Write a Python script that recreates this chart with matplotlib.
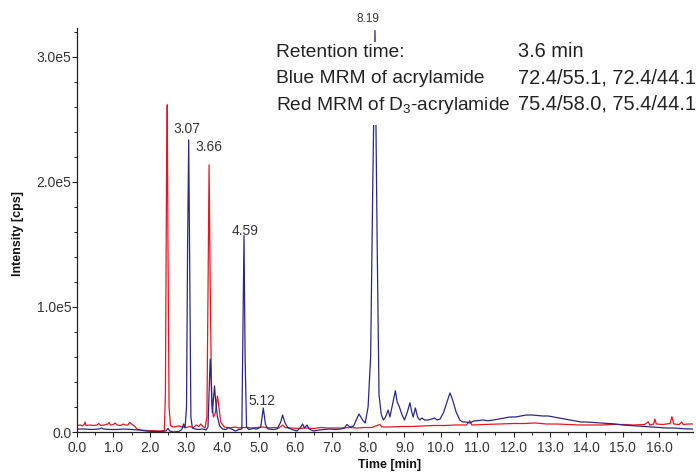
import matplotlib
matplotlib.use("Agg")
import matplotlib.pyplot as plt
from matplotlib.patches import Rectangle
from matplotlib.ticker import MultipleLocator, FuncFormatter

plt.rcParams['font.family'] = ['Liberation Sans', 'DejaVu Sans']
plt.rcParams['mathtext.default'] = 'regular'

# ---- data ----
red_t = [0.00, 0.10, 0.15, 0.20, 0.22, 0.25, 0.35, 0.45, 0.55, 0.60, 0.65, 0.75, 0.85, 0.88, 0.92,
         1.00, 1.05, 1.10, 1.20, 1.28, 1.32, 1.40, 1.45, 1.50, 1.58, 1.65, 1.75, 1.90, 2.10, 2.30,
         2.40, 2.43, 2.46, 2.48, 2.50, 2.53, 2.57, 2.65, 2.80, 2.90, 3.00, 3.10, 3.20, 3.28, 3.35,
         3.40, 3.45, 3.52, 3.57, 3.60, 3.63, 3.66, 3.70, 3.75, 3.80, 3.86, 3.90, 3.95, 4.05, 4.20,
         4.35, 4.45, 4.55, 4.70, 4.80, 4.95, 5.10, 5.25, 5.40, 5.55, 5.65, 5.72, 5.90, 6.10, 6.30,
         6.50, 6.70, 6.90, 7.10, 7.30, 7.50, 7.70, 7.90, 8.10, 8.32, 8.38, 8.60, 8.90, 9.20, 9.50,
         9.80, 10.10, 10.40, 10.70, 10.80, 10.85, 11.20, 11.60, 12.00, 12.30, 12.60, 12.90, 13.20,
         13.50, 13.80, 14.10, 14.40, 14.70, 15.00, 15.30, 15.60, 15.70, 15.74, 15.85, 15.88, 15.92,
         16.10, 16.30, 16.35, 16.40, 16.55, 16.62, 16.66, 16.80, 16.93]
red_i = [5200, 5600, 4800, 6000, 8000, 5200, 5600, 5200, 5600, 6800, 5200, 5600, 6400, 7600, 5600,
         6000, 7200, 5600, 5200, 6400, 5600, 5600, 7600, 6400, 4800, 2400, 1600, 1200, 1000, 800,
         1200, 30000, 200000, 261600, 150000, 20000, 5000, 4000, 4800, 4000, 3600, 4400, 3600, 5600, 4400,
         6400, 4800, 3200, 12000, 110000, 213600, 120000, 25000, 12000, 15000, 28800, 20000, 8000, 4000, 3200,
         4000, 3200, 3600, 3600, 3200, 3600, 4000, 3200, 3600, 3200, 5600, 3600, 3200, 2800, 3200,
         2800, 3600, 3200, 3200, 3200, 3600, 3200, 3600, 3600, 6000, 4000, 4000, 4400, 4400, 4800,
         5200, 5200, 5600, 5600, 9000, 5600, 6000, 6400, 6800, 6800, 7200, 6400, 6400,
         6000, 5600, 5600, 5600, 6000, 6000, 5600, 6000, 8200, 5600, 6400, 10400, 6400,
         6000, 6800, 12200, 6400, 6000, 8000, 6000, 6400, 6400]

blue_t = [0.00, 0.20, 0.40, 0.60, 0.68, 0.72, 0.90, 1.10, 1.30, 1.50, 1.70, 1.90, 2.10, 2.30, 2.45,
          2.50, 2.55, 2.65, 2.80, 2.88, 2.93, 2.97, 3.01, 3.04, 3.07, 3.10, 3.13, 3.17, 3.25, 3.35,
          3.45, 3.55, 3.60, 3.63, 3.66, 3.69, 3.72, 3.76, 3.78, 3.81, 3.86, 3.92, 4.00, 4.10, 4.15,
          4.25, 4.35, 4.45, 4.53, 4.56, 4.59, 4.62, 4.66, 4.72, 4.85, 4.95, 5.05, 5.12, 5.18, 5.25,
          5.40, 5.50, 5.60, 5.65, 5.72, 5.80, 5.95, 6.05, 6.15, 6.20, 6.25, 6.32, 6.38, 6.50, 6.65,
          6.80, 6.95, 7.10, 7.25, 7.35, 7.42, 7.50, 7.60, 7.75, 7.85, 7.92, 8.00, 8.07, 8.13, 8.19,
          8.25, 8.30, 8.36, 8.42, 8.48, 8.55, 8.60, 8.67, 8.75, 8.80, 8.86, 8.93, 9.00, 9.08, 9.15,
          9.20, 9.24, 9.30, 9.36, 9.42, 9.48, 9.55, 9.65, 9.75, 9.82, 9.90, 9.98, 10.08, 10.18, 10.25,
          10.32, 10.42, 10.52, 10.60, 10.70, 10.80, 10.90, 11.00, 11.15, 11.30, 11.45, 11.60, 11.75,
          11.90, 12.05, 12.20, 12.35, 12.50, 12.65, 12.80, 12.95, 13.10, 13.25, 13.40, 13.55, 13.70,
          13.85, 14.00, 14.20, 14.40, 14.60, 14.80, 15.00, 15.20, 15.40, 15.60, 15.80, 16.00, 16.20,
          16.40, 16.60, 16.80, 16.93]
blue_i = [2400, 2400, 2000, 2400, 3200, 2400, 2000, 2000, 2400, 2000, 1600, 800, 400, 400, 800,
          2800, 800, 0, 400, 2000, 6400, 3200, 20000, 150000, 233600, 120000, 12000, 3200, 2400, 2000,
          2400, 1600, 4000, 30000, 58400, 40000, 15400, 30000, 36800, 25000, 12000, 5000, 2400, 2000, 3600,
          2400, 800, 2000, 2400, 80000, 157000, 60000, 4000, 2000, 2800, 2400, 4000, 19200, 6000, 2400,
          2000, 2400, 8000, 13600, 7000, 3200, 1600, 800, 4000, 6400, 3200, 5600, 2400, 800, 1600,
          2000, 2400, 2000, 2400, 3200, 6000, 4000, 4800, 14400, 9600, 7200, 20000, 60000, 200000, 321000,
          150000, 30000, 14400, 9600, 12000, 17600, 12000, 22000, 33000, 24000, 20000, 14000, 9600, 16000, 23400,
          16000, 12000, 19200, 12000, 9600, 11200, 9600, 9600, 10400, 11200, 9600, 10400, 16000, 25000, 31200,
          26000, 16000, 9600, 8000, 8000, 7200, 8800, 9000, 9600, 9000, 9600, 10400, 11200,
          12000, 12000, 12800, 13600, 13600, 13200, 12800, 12800, 12000, 11200, 10400, 9600, 8800,
          8000, 8000, 7600, 7200, 6800, 6400, 5600, 5200, 4800, 4400, 4000, 3600, 3200,
          3200, 2800, 2400, 2400]

peak_labels = ["3.07", "3.66", "4.59", "5.12", "8.19"]
peak_label_t = [3.07, 3.63, 4.59, 5.12, 8.19]
peak_label_i = [233600, 213600, 157000, 19200, 321000]

info_left = ["Retention time:", "Blue MRM of acrylamide", "Red MRM of D$_3$-acrylamide"]
info_right = ["3.6 min", "72.4/55.1, 72.4/44.1", "75.4/58.0, 75.4/44.1"]

RED = "#e8151f"
BLUE = "#2a2886"
TXT = "#333333"

fig = plt.figure(figsize=(6.96, 4.72), dpi=100)
ax = fig.add_axes([77/696, 40/472, 616/696, 404/472])

ax.plot(red_t, red_i, color=RED, lw=0.9, zorder=2)
ax.plot(blue_t, blue_i, color=BLUE, lw=0.9, zorder=2.1)

ax.set_xlim(0, 16.93)
ax.set_ylim(0, 323000)

for sp in ['top', 'right']:
    ax.spines[sp].set_visible(False)
for sp in ['left', 'bottom']:
    ax.spines[sp].set_linewidth(0.9)
    ax.spines[sp].set_color('#222222')

ax.xaxis.set_major_locator(MultipleLocator(1.0))
ax.xaxis.set_minor_locator(MultipleLocator(0.5))
ax.yaxis.set_major_locator(MultipleLocator(100000))
ax.yaxis.set_minor_locator(MultipleLocator(20000))
ax.xaxis.set_major_formatter(FuncFormatter(lambda v, p: f"{v:.1f}"))
ax.yaxis.set_major_formatter(FuncFormatter(lambda v, p: "0.0" if v == 0 else f"{v/1e5:.1f}e5"))
ax.tick_params(axis='both', which='major', length=3.5, width=0.8, color='#222222',
               labelsize=10, labelcolor=TXT)
ax.tick_params(axis='x', which='major', pad=3)
ax.tick_params(axis='y', which='major', pad=0.5)
ax.tick_params(axis='both', which='minor', length=2.5, width=0.7, color='#222222')

# peak labels
offsets = [(-1, 3), (0, 8), (0.5, -1.5), (-1, 0), (-5, 4)]
sizes = [10, 10, 10, 10, 8.5]
for lab, t, v, off, fs in zip(peak_labels, peak_label_t, peak_label_i, offsets, sizes):
    ax.annotate(lab, xy=(t, v), xytext=off, textcoords='offset points', ha='center', va='bottom',
                fontsize=fs, color=TXT, annotation_clip=False, zorder=5)

# info box (white background hides the trace beneath)
box = Rectangle((270/696, (472-125)/472), 426/696, 83/472, transform=fig.transFigure,
                facecolor='white', edgecolor='none', zorder=3, clip_on=False)
ax.add_patch(box)
ys = [(472-57)/472, (472-83)/472, (472-110)/472]
for l, r, y in zip(info_left, info_right, ys):
    fig.text(276/696, y, l, fontsize=13.8, color='#222222', va='baseline', ha='left', zorder=6)
    fig.text(518/696, y, r, fontsize=14.4, color='#222222', va='baseline', ha='left', zorder=6)

fig.text(18/696, (472-233)/472, "Intensity [cps]", rotation=90, fontsize=9, fontweight='bold',
         color='#111111', ha='center', va='center')
fig.text(390/696, (472-465)/472, "Time [min]", fontsize=9, fontweight='bold',
         color='#111111', ha='center', va='center')

fig.savefig("out.png", dpi=100)
